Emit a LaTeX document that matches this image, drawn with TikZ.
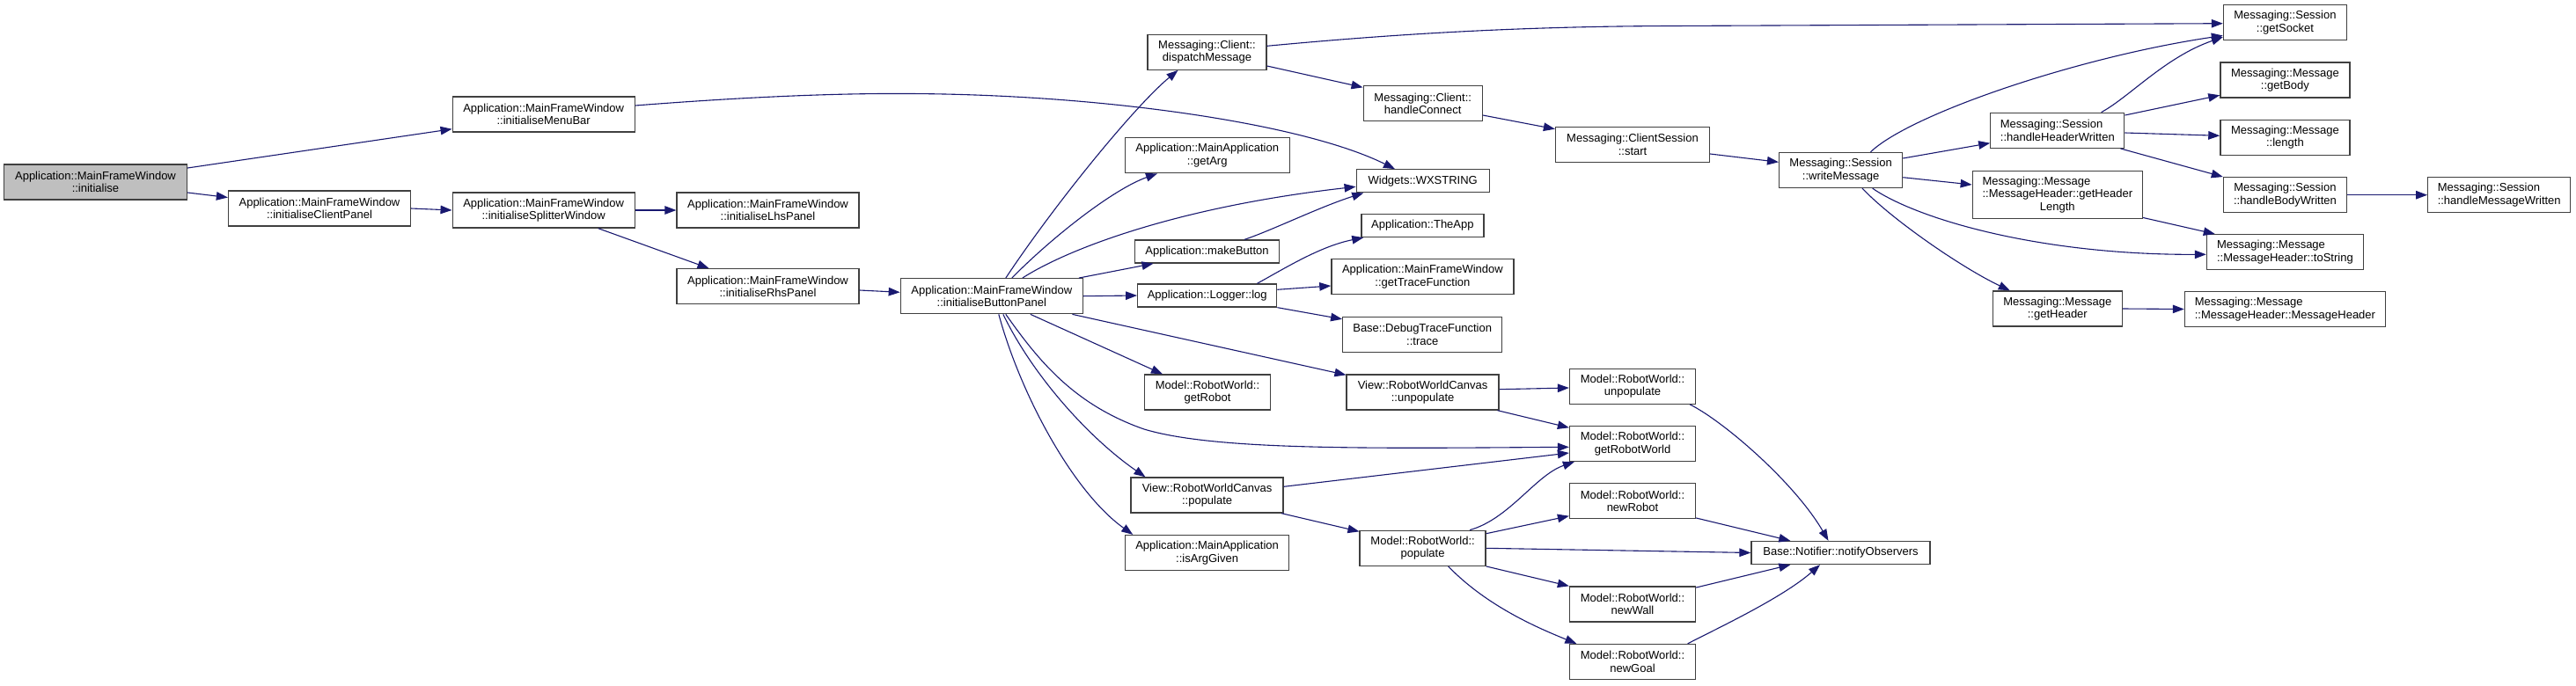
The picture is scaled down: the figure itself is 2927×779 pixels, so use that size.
\documentclass[tikz,border=0pt]{standalone}
\usepackage{fontspec}
\setmainfont{Liberation Sans}
\usetikzlibrary{arrows.meta,calc}
\definecolor{edgeblue}{HTML}{191970}
\definecolor{boxline}{HTML}{404040}
\definecolor{boxgray}{HTML}{BFBFBF}
\tikzset{
  fn/.style={draw=boxline, line width=1.3pt, fill=white, inner sep=0pt,
    minimum height=40pt, align=center, font=\fontsize{13}{14.5}\selectfont},
  one/.style={fn, minimum height=26pt},
  three/.style={fn, minimum height=54pt},
  root/.style={fn, fill=boxgray},
  lft/.style={align=left},
  conn/.style={draw=edgeblue, line width=1.1pt, -{Triangle[length=13pt,width=9.5pt]}},
}
\begin{document}
\begin{tikzpicture}[x=1pt,y=-1pt]
\useasboundingbox (0,0) rectangle (2927,779);
\fill[white] (0,0) rectangle (2927,779);
% nodes
\node[root, minimum width=208pt] (init) at (108.5,207) {Application::MainFrameWindow\\::initialise};
\node[fn, minimum width=207pt] (menubar) at (617.7,130) {Application::MainFrameWindow\\::initialiseMenuBar};
\node[fn, minimum width=207pt] (client) at (363,237) {Application::MainFrameWindow\\::initialiseClientPanel};
\node[fn, minimum width=207pt] (splitter) at (617.7,239) {Application::MainFrameWindow\\::initialiseSplitterWindow};
\node[fn, minimum width=207pt] (lhs) at (872.5,239) {Application::MainFrameWindow\\::initialiseLhsPanel};
\node[fn, minimum width=207pt] (rhs) at (872.5,325.7) {Application::MainFrameWindow\\::initialiseRhsPanel};
\node[fn, minimum width=207pt] (button) at (1126.8,336.7) {Application::MainFrameWindow\\::initialiseButtonPanel};
\node[fn, minimum width=135pt] (dispatch) at (1371.5,59.2) {Messaging::Client::\\dispatchMessage};
\node[fn, minimum width=187pt] (getarg) at (1371.7,176.7) {Application::MainApplication\\::getArg};
\node[one, minimum width=164pt] (makebutton) at (1371.5,286) {Application::makeButton};
\node[one, minimum width=158pt] (loggerlog) at (1371.7,336) {Application::Logger::log};
\node[fn, minimum width=143pt] (getrobot) at (1372,446) {Model::RobotWorld::\\getRobot};
\node[fn, minimum width=173pt] (vpop) at (1371.6,563) {View::RobotWorldCanvas\\::populate};
\node[fn, minimum width=186pt] (isarg) at (1371.6,628.5) {Application::MainApplication\\::isArgGiven};
\node[fn, minimum width=135pt] (hconn) at (1616.7,117.7) {Messaging::Client::\\handleConnect};
\node[one, minimum width=151pt] (wx) at (1616.7,205.8) {Widgets::WXSTRING};
\node[one, minimum width=139pt] (theapp) at (1616.4,256.5) {Application::TheApp};
\node[fn, minimum width=207pt] (gettrace) at (1616.4,314.8) {Application::MainFrameWindow\\::getTraceFunction};
\node[fn, minimum width=181pt] (dtrace) at (1616.2,380.5) {Base::DebugTraceFunction\\::trace};
\node[fn, minimum width=173pt] (vunpop) at (1616.6,446) {View::RobotWorldCanvas\\::unpopulate};
\node[fn, minimum width=143pt] (mpop) at (1616.6,623.3) {Model::RobotWorld::\\populate};
\node[fn, minimum width=175pt] (csstart) at (1855,164.3) {Messaging::ClientSession\\::start};
\node[fn, minimum width=143pt] (munpop) at (1855,439.2) {Model::RobotWorld::\\unpopulate};
\node[fn, minimum width=143pt] (grw) at (1855,504.5) {Model::RobotWorld::\\getRobotWorld};
\node[fn, minimum width=143pt] (newrobot) at (1855,569.8) {Model::RobotWorld::\\newRobot};
\node[fn, minimum width=143pt] (newwall) at (1855,687) {Model::RobotWorld::\\newWall};
\node[fn, minimum width=143pt] (newgoal) at (1855,752.5) {Model::RobotWorld::\\newGoal};
\node[fn, minimum width=140pt] (write) at (2091.6,193.5) {Messaging::Session\\::writeMessage};
\node[one, minimum width=203pt] (notify) at (2091.5,628.5) {Base::Notifier::notifyObservers};
\node[fn, lft, minimum width=152pt] (hhw) at (2337.8,148.3) {Messaging::Session\\::handleHeaderWritten};
\node[three, minimum width=193pt] (ghl) at (2337.8,221.8) {\begin{tabular}{@{}l@{}}Messaging::Message\\::MessageHeader::getHeader\\\multicolumn{1}{@{}c@{}}{Length}\end{tabular}};
\node[fn, lft, minimum width=178pt] (tostring) at (2596.4,286.7) {Messaging::Message\\::MessageHeader::toString};
\node[fn, minimum width=147pt] (getheader) at (2337.8,351) {Messaging::Message\\::getHeader};
\node[fn, lft, minimum width=228pt] (mheader) at (2596.4,351.5) {Messaging::Message\\::MessageHeader::MessageHeader};
\node[fn, minimum width=140pt] (getsocket) at (2596.4,25.8) {Messaging::Session\\::getSocket};
\node[fn, minimum width=147pt] (getbody) at (2596.4,91) {Messaging::Message\\::getBody};
\node[fn, minimum width=147pt] (mlength) at (2596.4,156.3) {Messaging::Message\\::length};
\node[fn, minimum width=140pt] (hbw) at (2596.4,221.7) {Messaging::Session\\::handleBodyWritten};
\node[fn, lft, minimum width=162pt] (hmw) at (2839.7,221.7) {Messaging::Session\\::handleMessageWritten};
% edges
\draw[conn] ([yshift=16pt]init.east) -- ([yshift=-16.7pt]menubar.west);
\draw[conn] ([yshift=-12pt]init.east) -- ([yshift=12.5pt]client.west);
\draw[conn] (client.east) -- (splitter.west);
\draw[conn] ([yshift=10pt]menubar.east) .. controls (850,110) and (950,106) .. (1030,106.5) .. controls (1250,107) and (1480,140) .. ([xshift=-31.7pt]wx.north);
\draw[conn] (splitter.east) -- (lhs.west);
\draw[conn] ([xshift=62pt]splitter.south) -- ([xshift=-67pt]rhs.north);
\draw[conn] ([yshift=-4.3pt]rhs.east) -- ([yshift=4.4pt]button.west);
\draw[conn] ([xshift=16pt]button.north) .. controls (1200,230) and (1290,120) .. ([xshift=-33pt]dispatch.south);
\draw[conn] ([xshift=23pt]button.north) .. controls (1195,270) and (1265,215) .. ([xshift=-56.7pt]getarg.south);
\draw[conn] ([xshift=35pt]button.north) .. controls (1215,282) and (1340,235) .. ([yshift=-6.5pt]wx.west);
\draw[conn] ([xshift=-5pt]button.north east) -- ([xshift=-61pt]makebutton.south);
\draw[conn] (button.east) -- (loggerlog.west);
\draw[conn] ([xshift=91.6pt]button.south) -- ([yshift=-1pt]vunpop.north west);
\draw[conn] ([xshift=44pt]button.south) -- ([xshift=-51pt]getrobot.north);
\draw[conn] ([xshift=16pt]button.south) .. controls (1180,410) and (1220,460) .. (1300,488) .. controls (1380,512) and (1550,510) .. ([yshift=-3.8pt]grw.west);
\draw[conn] ([xshift=13pt]button.south) .. controls (1175,430) and (1240,500) .. ([xshift=17pt]vpop.north west);
\draw[conn] ([xshift=8pt]button.south) .. controls (1160,450) and (1220,560) .. ([xshift=9.3pt]isarg.north west);
\draw[conn] ([yshift=6.9pt]dispatch.east) .. controls (1550,42) and (1700,30) .. (1900,29.5) -- ([yshift=-0.9pt]getsocket.west);
\draw[conn] ([yshift=-15.8pt]dispatch.east) -- ([yshift=-2.3pt]hconn.north west);
\draw[conn] ([yshift=-13.3pt]hconn.east) -- ([yshift=17.6pt]csstart.west);
\draw[conn] ([yshift=-10.7pt]csstart.east) -- ([yshift=9.2pt]write.west);
\draw[conn] ([xshift=33.8pt]write.north) .. controls (2170,130) and (2360,65) .. ([yshift=6pt]getsocket.south west);
\draw[conn] ([yshift=13.5pt]write.east) -- ([yshift=-14.4pt]hhw.west);
\draw[conn] ([yshift=-8.2pt]write.east) -- ([yshift=11.8pt]ghl.west);
\draw[conn] ([xshift=36pt]write.south) .. controls (2180,250) and (2320,290) .. ([yshift=-2.6pt]tostring.west);
\draw[conn] ([xshift=24.4pt]write.south) .. controls (2150,250) and (2230,305) .. ([xshift=-54pt]getheader.north);
\draw[conn] ([xshift=49.8pt]hhw.north) .. controls (2420,110) and (2460,65) .. ([yshift=4.3pt]getsocket.south west);
\draw[conn] ([yshift=17.3pt]hhw.east) -- ([yshift=-17.3pt]getbody.west);
\draw[conn] ([yshift=-2.7pt]hhw.east) -- ([yshift=2pt]mlength.west);
\draw[conn] ([xshift=-5pt]hhw.south east) -- (hbw.north west);
\draw[conn] (hbw.east) -- (hmw.west);
\draw[conn] ([yshift=2pt]ghl.south east) -- ([xshift=10pt]tostring.north west);
\draw[conn] (getheader.east) -- (mheader.west);
\draw[conn] ([xshift=42.5pt]makebutton.north) .. controls (1445,262) and (1500,235) .. ([xshift=8.7pt]wx.south west);
\draw[conn] ([xshift=56.7pt]loggerlog.north) .. controls (1460,305) and (1500,280) .. ([xshift=3pt]theapp.south west);
\draw[conn] ([yshift=6.7pt]loggerlog.east) -- ([yshift=-10.2pt]gettrace.west);
\draw[conn] (loggerlog.south east) -- ([yshift=-3pt]dtrace.north west);
\draw[conn] ([yshift=3.3pt]vunpop.east) -- ([yshift=-1.8pt]munpop.west);
\draw[conn] ([xshift=-2.3pt]vunpop.south east) -- ([yshift=-2.4pt]grw.north west);
\draw[conn] ([yshift=9.7pt]vpop.east) -- ([yshift=-10.5pt]grw.west);
\draw[conn] ([xshift=-2.7pt]vpop.south east) -- ([yshift=-1.7pt]mpop.north west);
\draw[conn] ([xshift=53.4pt]mpop.north) .. controls (1715,590) and (1745,540) .. ([xshift=6pt]grw.south west);
\draw[conn] ([yshift=16.6pt]mpop.east) -- ([yshift=-16.9pt]newrobot.west);
\draw[conn] (mpop.east) -- (notify.west);
\draw[conn] (mpop.south east) -- (newwall.north west);
\draw[conn] ([xshift=29pt]mpop.south) .. controls (1690,690) and (1750,715) .. ([xshift=8.5pt]newgoal.north west);
\draw[conn] ([xshift=-7pt]munpop.south east) .. controls (1960,480) and (2040,550) .. ([xshift=-14pt]notify.north);
\draw[conn] ([yshift=1.5pt]newrobot.south east) -- ([xshift=45pt]notify.north west);
\draw[conn] ([yshift=-1.7pt]newwall.north east) -- ([xshift=45pt]notify.south west);
\draw[conn] ([xshift=-9.5pt]newgoal.north east) .. controls (1950,715) and (2025,680) .. ([xshift=-23.5pt]notify.south);
\end{tikzpicture}
\end{document}
